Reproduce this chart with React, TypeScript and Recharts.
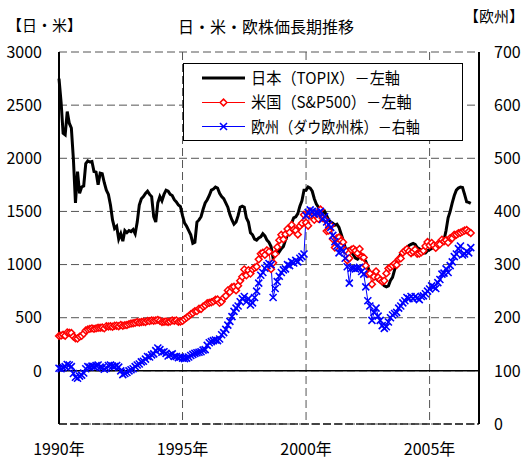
import { ComposedChart, Line, XAxis, YAxis, CartesianGrid, ReferenceLine } from "recharts";

// monthly closes, Jan 1990 .. Sep 2006
const topix = [
  2750, 2530, 2235, 2220, 2440, 2330, 2285, 1990, 1580, 1875, 1670, 1730,
  1740, 1950, 1975, 1965, 1970, 1875, 1870, 1750, 1860, 1855, 1770, 1700,
  1660, 1560, 1420, 1340, 1360, 1240, 1290, 1220, 1320, 1300, 1320, 1310,
  1330, 1290, 1400, 1560, 1620, 1640, 1670, 1690, 1660, 1640, 1450, 1400,
  1580, 1640, 1600, 1660, 1700, 1690, 1660, 1650, 1610, 1590, 1560, 1545,
  1460, 1390, 1360, 1320, 1280, 1200, 1210, 1400, 1420, 1450, 1520, 1580,
  1610, 1650, 1700, 1710, 1730, 1720, 1670, 1640, 1620, 1580, 1540, 1470,
  1420, 1380, 1400, 1460, 1540, 1550, 1540, 1440, 1400, 1300, 1280, 1240,
  1230, 1250, 1260, 1290, 1270, 1230, 1210, 1170, 1060, 1100, 1150, 1120,
  1150, 1170, 1230, 1280, 1350, 1390, 1440, 1450, 1480, 1550, 1600, 1700,
  1700, 1730, 1720, 1690, 1620, 1570, 1540, 1500, 1480, 1500, 1460, 1420,
  1400, 1390, 1370, 1380, 1350, 1290, 1230, 1160, 1140, 1150, 1120, 1090,
  1060, 1050, 1070, 1090, 1060, 1030, 980, 920, 900, 880, 870, 850,
  840, 820, 800, 790, 800, 850, 880, 950, 1020, 1060, 1100, 1110,
  1130, 1160, 1180, 1190, 1200, 1190, 1160, 1150, 1130, 1110, 1110, 1130,
  1140, 1150, 1170, 1160, 1180, 1190, 1210, 1230, 1320, 1440, 1500, 1580,
  1650, 1700, 1720, 1730, 1725, 1660, 1590, 1585, 1575,
];

const sp500 = [
  329, 332, 339, 331, 361, 358, 356, 323, 306, 304, 322, 330,
  350, 380, 390, 395, 400, 395, 400, 405, 405, 408, 400, 420,
  418, 420, 415, 425, 425, 420, 432, 425, 430, 432, 440, 445,
  448, 452, 460, 455, 460, 462, 460, 470, 468, 475, 472, 475,
  480, 472, 460, 462, 465, 460, 465, 475, 470, 475, 462, 465,
  470, 487, 501, 515, 533, 545, 562, 562, 584, 582, 605, 616,
  636, 640, 646, 654, 669, 671, 640, 652, 687, 705, 757, 741,
  786, 791, 757, 801, 848, 885, 954, 899, 947, 915, 955, 970,
  980, 1049, 1102, 1112, 1091, 1134, 1121, 957, 1017, 1099, 1164, 1229,
  1280, 1238, 1286, 1335, 1302, 1373, 1329, 1320, 1283, 1363, 1389, 1469,
  1394, 1366, 1499, 1452, 1421, 1455, 1431, 1518, 1437, 1429, 1315, 1320,
  1366, 1240, 1160, 1249, 1256, 1224, 1211, 1134, 1041, 1060, 1139, 1148,
  1130, 1107, 1147, 1076, 1067, 990, 912, 916, 815, 886, 936, 880,
  856, 841, 848, 917, 964, 975, 990, 1008, 996, 1051, 1058, 1112,
  1131, 1145, 1126, 1107, 1121, 1141, 1102, 1104, 1115, 1130, 1174, 1212,
  1181, 1204, 1181, 1157, 1192, 1191, 1234, 1220, 1229, 1207, 1249, 1248,
  1280, 1281, 1295, 1300, 1310, 1320, 1325, 1310, 1297,
];

const europe = [
  105, 104, 106, 108, 112, 111, 108, 95, 88, 86, 90, 92,
  96, 104, 108, 107, 109, 108, 110, 111, 107, 106, 103, 105,
  110, 111, 109, 108, 110, 107, 100, 93, 95, 97, 100, 102,
  104, 108, 111, 113, 117, 118, 122, 127, 126, 130, 132, 138,
  143, 140, 135, 136, 133, 128, 130, 132, 127, 127, 125, 126,
  124, 123, 124, 126, 129, 131, 133, 134, 135, 136, 139, 140,
  148, 153, 155, 157, 158, 157, 160, 168, 172, 178, 186, 193,
  202, 212, 218, 222, 230, 236, 240, 230, 236, 224, 228, 238,
  250, 265, 280, 285, 293, 298, 302, 300, 238, 255, 268, 278,
  285, 290, 292, 300, 298, 305, 303, 308, 305, 312, 315, 320,
  392, 398, 403, 400, 395, 398, 397, 400, 385, 390, 380, 375,
  370, 355, 343, 335, 322, 331, 325, 312, 296, 265, 293, 293,
  292, 293, 295, 287, 282, 258, 232, 222, 195, 210, 218, 203,
  195, 185, 180, 183, 192, 200, 205, 208, 210, 218, 222, 228,
  232, 238, 236, 240, 236, 240, 237, 234, 240, 241, 245, 250,
  254, 260, 258, 255, 266, 272, 282, 284, 292, 285, 298, 305,
  315, 320, 330, 335, 318, 320, 325, 322, 332,
];

const yearTicks = [0, 60, 120, 180];
const yearLabels = ["1990年", "1995年", "2000年", "2005年"];
const leftTicks = [-500, 0, 500, 1000, 1500, 2000, 2500, 3000];
const rightTicks = [0, 100, 200, 300, 400, 500, 600, 700];

const seriesNames = ["日本（TOPIX）－左軸", "米国（S&P500）－左軸", "欧州（ダウ欧州株）－右軸"];
// horizontal squeeze so the legend text fits the box like the original
const legendScale = [0.95, 0.95, 0.88];

const data = topix.map((v, i) => ({ m: i, topix: v, sp500: sp500[i], europe: europe[i] }));

const FONT = "'Noto Sans CJK JP', 'Liberation Sans', sans-serif";

const Diamond = (props: any) => {
  const { cx, cy } = props;
  if (cx == null || cy == null) return null;
  const s = 3.4;
  return (
    <path
      d={`M${cx},${cy - s}L${cx + s},${cy}L${cx},${cy + s}L${cx - s},${cy}Z`}
      fill="#fff"
      stroke="#ff0000"
      strokeWidth={1.5}
    />
  );
};

const Cross = (props: any) => {
  const { cx, cy } = props;
  if (cx == null || cy == null) return null;
  const s = 3.5;
  return (
    <path
      d={`M${cx - s},${cy - s}L${cx + s},${cy + s}M${cx - s},${cy + s}L${cx + s},${cy - s}`}
      stroke="#0000ff"
      strokeWidth={1.6}
    />
  );
};

const tickStyle = { fontSize: 16, fill: "#000", fontFamily: FONT };

export default function App() {
  return (
    <div style={{ position: "absolute", left: 0, top: 0, width: 526, height: 463, background: "#fff" }}>
      <ComposedChart width={526} height={463} data={data} margin={{ top: 52, right: 0, bottom: 0, left: 0 }}>
        <CartesianGrid stroke="#555" strokeDasharray="8 4" />
        <XAxis
          dataKey="m"
          type="number"
          domain={[0, 204]}
          ticks={yearTicks}
          tickFormatter={(v) => yearLabels[yearTicks.indexOf(v)]}
          height={39}
          tickSize={0}
          tickMargin={20}
          tick={tickStyle}
          axisLine={{ stroke: "#222", strokeWidth: 1.5, strokeDasharray: "8 3" }}
          tickLine={false}
        />
        <YAxis
          domain={[-500, 3000]}
          ticks={leftTicks}
          width={59}
          tickSize={0}
          tickMargin={17}
          tick={tickStyle}
          tickFormatter={(v) => (v === -500 ? "" : String(v))}
          axisLine={{ stroke: "#000", strokeWidth: 2 }}
          tickLine={false}
          interval={0}
        />
        <YAxis
          yAxisId="right"
          orientation="right"
          domain={[0, 700]}
          ticks={rightTicks}
          width={47}
          tickSize={0}
          tickMargin={15}
          tick={{ ...tickStyle, textAnchor: "start" }}
          axisLine={{ stroke: "#000", strokeWidth: 2 }}
          tickLine={false}
          interval={0}
        />
        <ReferenceLine y={0} stroke="#000" strokeWidth={1.5} />
        <Line dataKey="topix" stroke="#000" strokeWidth={3} dot={false} isAnimationActive={false} />
        <Line dataKey="sp500" stroke="#ff0000" strokeWidth={1} dot={<Diamond />} isAnimationActive={false} />
        <Line
          dataKey="europe"
          yAxisId="right"
          stroke="#0000ff"
          strokeWidth={1}
          dot={<Cross />}
          isAnimationActive={false}
        />
      </ComposedChart>
      <svg
        width={526}
        height={463}
        style={{ position: "absolute", left: 0, top: 0, pointerEvents: "none" }}
        fontFamily={FONT}
      >
        <text x={266} y={33} textAnchor="middle" fontSize={16} fill="#000">
          日・米・欧株価長期推移
        </text>
        <text x={7} y={31} fontSize={15} fill="#000">
          【日・米】
        </text>
        <text x={524} y={22} textAnchor="end" fontSize={15} fill="#000">
          【欧州】
        </text>
        <rect x={183.5} y={63.5} width={279} height={77} fill="#fff" stroke="#000" strokeWidth={1} />
        <line x1={202} x2={245} y1={78} y2={78} stroke="#000" strokeWidth={3} />
        <line x1={202} x2={245} y1={102.5} y2={102.5} stroke="#ff0000" strokeWidth={1} />
        <Diamond cx={223.5} cy={102.5} />
        <line x1={202} x2={245} y1={126.5} y2={126.5} stroke="#0000ff" strokeWidth={1} />
        <Cross cx={223.5} cy={126.5} />
        {seriesNames.map((n, i) => (
          <g key={n} transform={`translate(251,${84 + i * 24.3}) scale(${legendScale[i]},1)`}>
            <text x={0} y={0} fontSize={16} fill="#000">
              {n}
            </text>
          </g>
        ))}
      </svg>
    </div>
  );
}
